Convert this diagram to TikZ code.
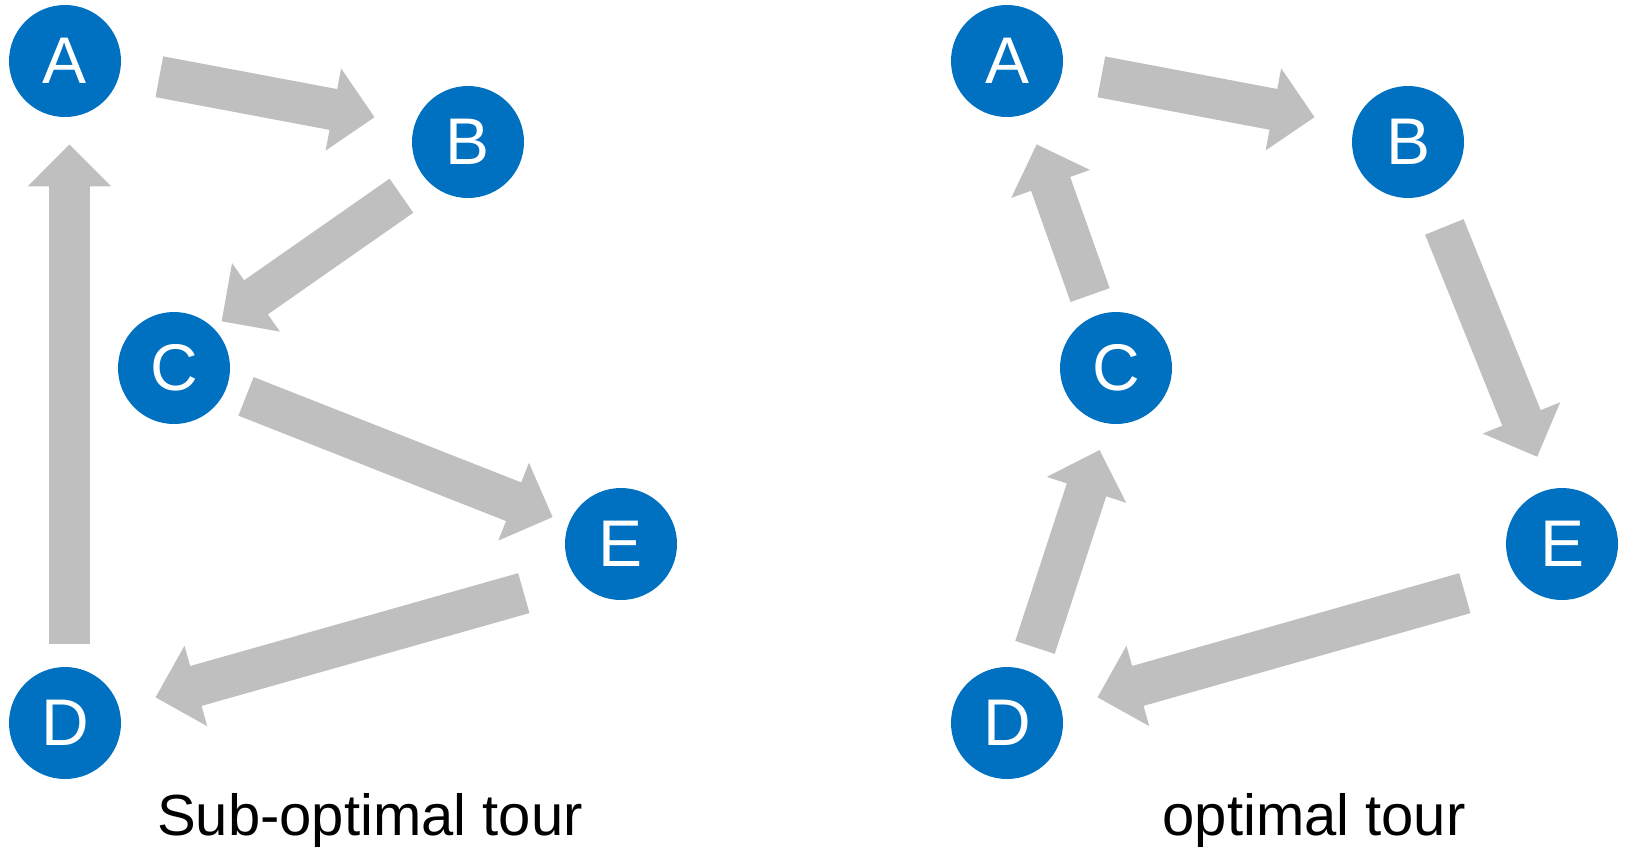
\documentclass[tikz,border=0pt]{standalone}
\usepackage{fontspec}
\setmainfont{Liberation Sans}
\usetikzlibrary{arrows.meta}
\definecolor{cityblue}{RGB}{0,112,192}
\definecolor{arrowgray}{RGB}{191,191,191}
\tikzset{
  city/.style={circle, fill=cityblue, text=white, minimum size=56pt, inner sep=0pt,
    font=\fontsize{33}{36}\selectfont},
  tour/.style={draw=arrowgray, line width=20.75pt,
    -{Triangle[width=40.5pt, length=21pt, color=arrowgray]}},
  caption/.style={anchor=base, font=\fontsize{29}{35}\selectfont}
}
\begin{document}
\begin{tikzpicture}[x=0.5pt, y=-0.5pt]
  \useasboundingbox (0,0) rectangle (1626,858);

  % Sub-optimal tour (left)
  \node[city] (sA) at (65,61) {A};
  \node[city] (sB) at (468,142) {B};
  \node[city] (sC) at (174,368) {C};
  \node[city] (sD) at (65,723) {D};
  \node[city] (sE) at (621,544) {E};

  \draw[tour, shorten <=48pt, shorten >=47.5pt] ([yshift=1pt]sA.center) -- ([yshift=3.6pt]sB.center);
  \draw[tour, shorten <=40.6pt, shorten >=29pt] ([yshift=-3.6pt]sB.center) -- ([yshift=6.7pt]sC.center);
  \draw[tour, shorten <=10.5pt, shorten >=8.5pt] (sC) -- (sE);
  \draw[tour, shorten <=50.5pt, shorten >=47pt] ([yshift=-10.8pt]sE.center) -- (sD.center);
  \draw[tour, shorten <=11.5pt, shorten >=13.5pt] ([xshift=2.2pt]sD.north) -- ([xshift=2.2pt]sA.south);

  % Optimal tour (right)
  \node[city] (oA) at (1007,61) {A};
  \node[city] (oB) at (1408,142) {B};
  \node[city] (oC) at (1116,368) {C};
  \node[city] (oD) at (1007,723) {D};
  \node[city] (oE) at (1562,544) {E};

  \draw[tour, shorten <=48pt, shorten >=47.5pt] ([yshift=1pt]oA.center) -- ([yshift=3.6pt]oB.center);
  \draw[tour, shorten <=45.8pt, shorten >=47pt] ([xshift=1pt]oB.center) -- ([xshift=5.2pt]oE.center);
  \draw[tour, shorten <=50.5pt, shorten >=47pt] ([yshift=-10.8pt]oE.center) -- (oD.center);
  \draw[tour, shorten <=39.8pt, shorten >=43.1pt] ([xshift=1.6pt]oD.center) -- ([xshift=5.2pt]oC.center);
  \draw[tour, shorten <=10.5pt, shorten >=16pt] (oC) -- (oA);

  % Captions
  \node[caption] (subcap) at (370,835) {Sub-optimal tour};
  \node[caption] (optcap) at (1314,835) {optimal tour};

\end{tikzpicture}
\end{document}
